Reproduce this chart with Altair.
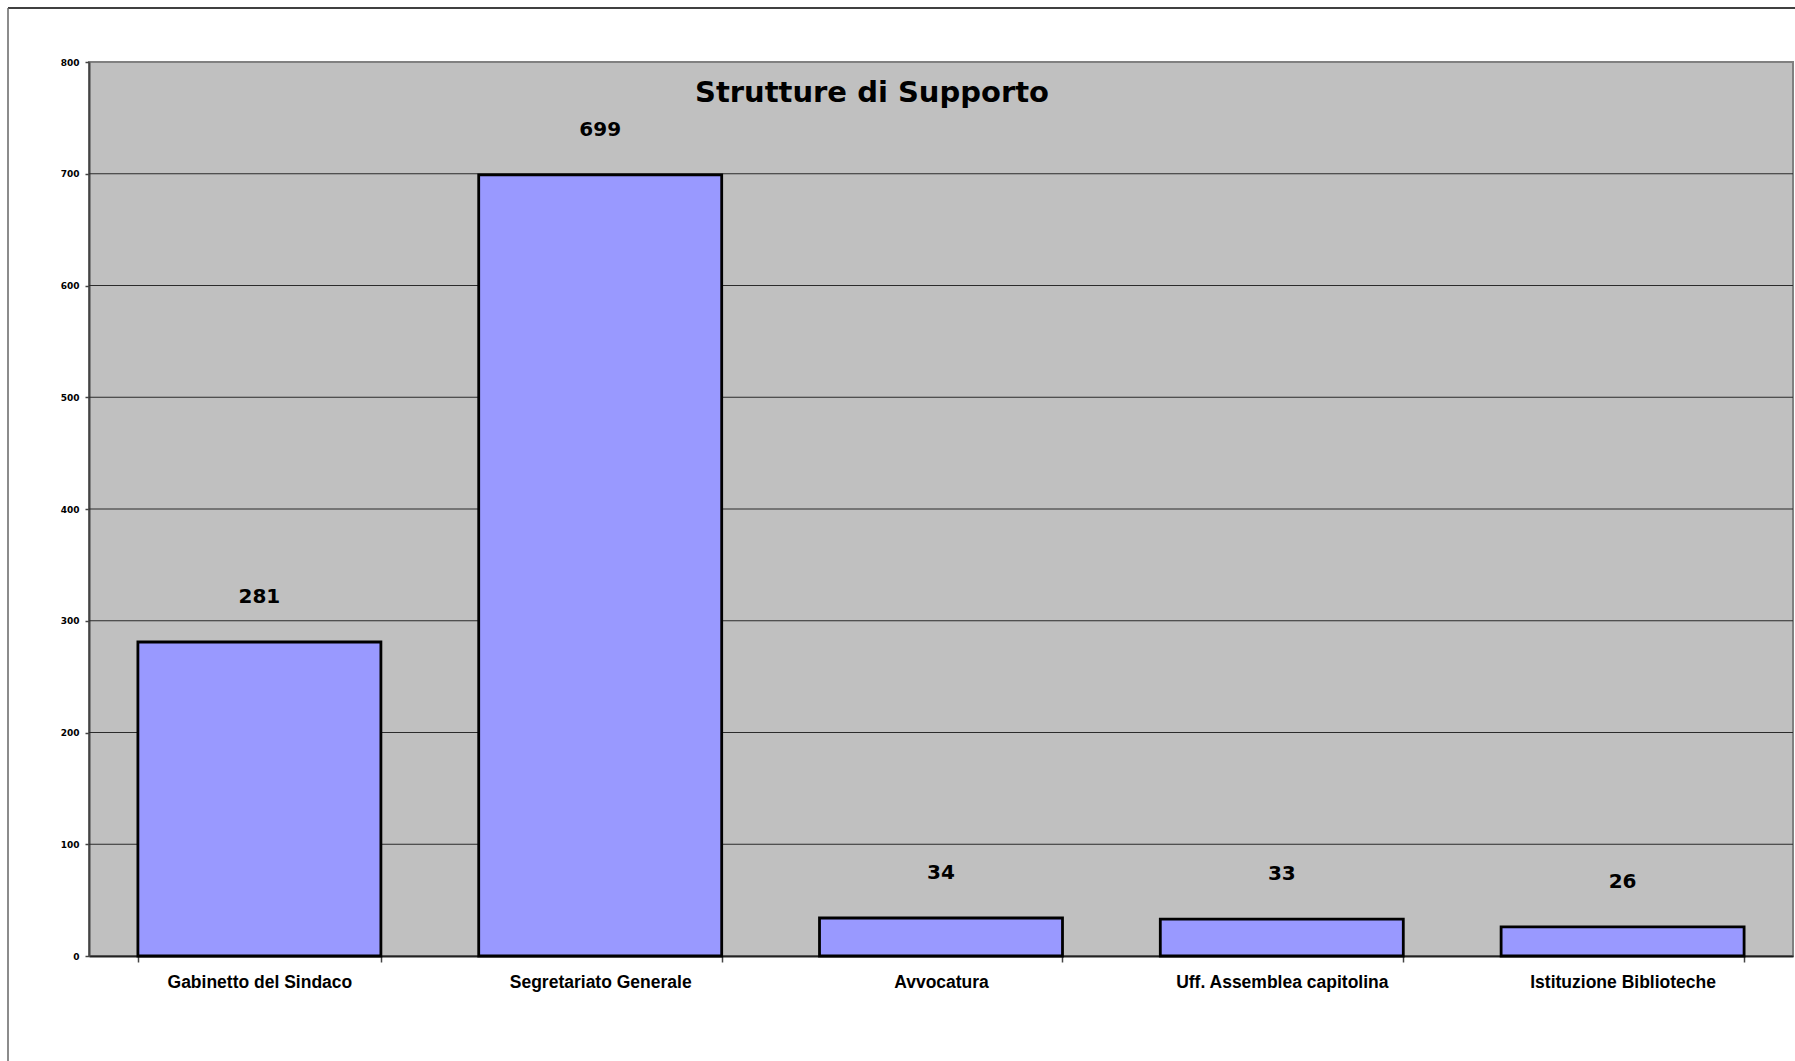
import altair as alt
import pandas as pd

# Staff counts per support structure
categories = [
    "Gabinetto del Sindaco",
    "Segretariato Generale",
    "Avvocatura",
    "Uff. Assemblea capitolina",
    "Istituzione Biblioteche",
]
counts = [281, 699, 34, 33, 26]

y_ticks = [0, 100, 200, 300, 400, 500, 600, 700, 800]
grid_lines = [100, 200, 300, 400, 500, 600, 700]
title_text = "Strutture di Supporto"

df = pd.DataFrame({"struttura": categories, "n": counts})

y_scale = alt.Scale(domain=[0, 800], nice=False)

x_enc = alt.X(
    "struttura:N",
    sort=categories,
    title=None,
    scale=alt.Scale(paddingInner=0.287, paddingOuter=0.1435),
    axis=alt.Axis(
        labelAngle=0,
        labelFont="Liberation Sans",
        labelFontWeight="bold",
        labelFontSize=17.5,
        labelColor="black",
        labelLimit=500,
        labelPadding=11,
        tickBand="extent",
        tickSize=6,
        tickColor="#444444",
        tickWidth=1.5,
        domainColor="#222222",
        domainWidth=2,
        grid=False,
    ),
)
y_axis = alt.Axis(
    values=y_ticks,
    labelFont="DejaVu Sans",
    labelFontWeight="bold",
    labelFontSize=9,
    labelColor="black",
    labelPadding=6,
    tickSize=4,
    tickColor="#444444",
    tickWidth=1.5,
    domainColor="#444444",
    domainWidth=2,
    grid=False,
)
y_enc = alt.Y("n:Q", title=None, scale=y_scale, axis=y_axis)

# horizontal gridlines inside the plot area
grid = alt.Chart(pd.DataFrame({"v": grid_lines})).mark_rule(
    color="#2b2b2b", strokeWidth=1.2
).encode(y=alt.Y("v:Q", title=None, scale=y_scale, axis=y_axis))

bars = alt.Chart(df).mark_bar(
    fill="#9999FF", stroke="black", strokeWidth=2.8
).encode(x=x_enc, y=y_enc)

values = alt.Chart(df).mark_text(
    font="DejaVu Sans", fontWeight="bold", fontSize=20, color="black",
    baseline="middle", dy=-45
).encode(x=alt.X("struttura:N", sort=categories), y=alt.Y("n:Q", scale=y_scale), text="n:Q")

title = alt.Chart(pd.DataFrame({"t": [title_text]})).mark_text(
    font="DejaVu Sans", fontWeight="bold", fontSize=29, color="black",
    baseline="alphabetic", align="center"
).encode(text="t:N", x=alt.value(783), y=alt.value(40))

# outer chart-area frame
frame_top = alt.Chart(pd.DataFrame({"k": [0]})).mark_rule(
    color="black", strokeWidth=1.5
).encode(x=alt.value(-81), x2=alt.value(1800), y=alt.value(-54))
frame_left = alt.Chart(pd.DataFrame({"k": [0]})).mark_rule(
    color="#666666", strokeWidth=1.5
).encode(x=alt.value(-81), y=alt.value(-54), y2=alt.value(1100))

chart = alt.layer(grid, bars, values, title, frame_top, frame_left).properties(
    width=1704,
    height=894,
    autosize=alt.AutoSizeParams(type="none"),
    padding={"left": 89, "top": 62, "right": 2, "bottom": 105},
    background="white",
).configure_view(
    fill="#C0C0C0", stroke="#808080", strokeWidth=2
)

chart.save("out.html", embed_options={"renderer": "svg", "actions": False})
